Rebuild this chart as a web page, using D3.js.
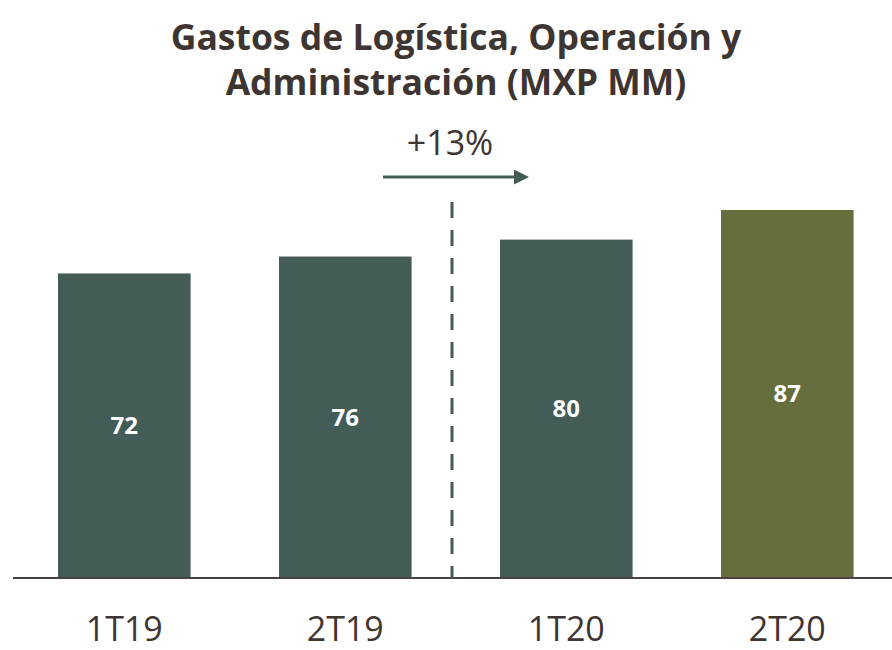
<!DOCTYPE html>
<html>
  <head>
    <meta charset="utf-8">
    <style type="text/css">
      body { margin: 0; background: #fff; }
      text { font-family: "Open Sans", sans-serif; }
    </style>
  </head>
  <body>
    <svg id="chart" width="892" height="650"></svg>
    <script src="https://cdn.jsdelivr.net/npm/d3@7"></script>
    <script>
      const categories = ["1T19", "2T19", "1T20", "2T20"];
      const values = [72, 76, 80, 87];
      const barColors = ["#445c58", "#445c58", "#445c58", "#676e3d"];
      const titleLines = ["Gastos de Logística, Operación y", "Administración (MXP MM)"];
      const growthLabel = "+13%";

      const textColor = "#3e3431";
      const svg = d3.select("#chart");
      const baseY = 578;

      const x = d3.scaleBand()
        .domain(categories)
        .range([13.8, 897.8])
        .paddingInner(0.4)
        .paddingOuter(0.2);

      const y = d3.scaleLinear()
        .domain([0, 100])
        .range([baseY, baseY - 423]);

      // title
      svg.selectAll("text.title").data(titleLines).enter().append("text")
        .attr("class", "title")
        .attr("x", 456)
        .attr("y", (d, i) => 50 + i * 45)
        .attr("text-anchor", "middle")
        .style("font-size", "35.5px")
        .style("font-weight", "bold")
        .style("fill", textColor)
        .text((d) => d);

      // bars
      svg.selectAll("rect.bar").data(values).enter().append("rect")
        .attr("class", "bar")
        .attr("x", (d, i) => x(categories[i]))
        .attr("y", (d) => y(d))
        .attr("width", x.bandwidth())
        .attr("height", (d) => baseY - y(d))
        .style("fill", (d, i) => barColors[i]);

      // value labels
      svg.selectAll("text.val").data(values).enter().append("text")
        .attr("class", "val")
        .attr("x", (d, i) => x(categories[i]) + x.bandwidth() / 2)
        .attr("y", (d) => (y(d) + baseY) / 2)
        .attr("dy", "0.35em")
        .attr("text-anchor", "middle")
        .style("font-size", "24px")
        .style("font-weight", "bold")
        .style("fill", "#fff")
        .text((d) => d);

      // baseline
      svg.append("line")
        .attr("x1", 13).attr("x2", 892)
        .attr("y1", baseY).attr("y2", baseY)
        .style("stroke", "#4a4241")
        .style("stroke-width", 2);

      // category labels
      svg.selectAll("text.cat").data(categories).enter().append("text")
        .attr("class", "cat")
        .attr("x", (d) => x(d) + x.bandwidth() / 2)
        .attr("y", 641)
        .attr("text-anchor", "middle")
        .style("font-size", "34px")
        .style("fill", textColor)
        .text((d) => d);

      // dashed separator
      const sepX = x("1T20") - 48;
      svg.append("line")
        .attr("x1", sepX).attr("x2", sepX)
        .attr("y1", 202).attr("y2", baseY)
        .style("stroke", "#445c58")
        .style("stroke-width", 3)
        .style("stroke-dasharray", "16,12");

      // growth arrow
      svg.append("defs").append("marker")
        .attr("id", "arrow")
        .attr("viewBox", "0 0 10 10")
        .attr("refX", 0).attr("refY", 5)
        .attr("markerWidth", 5).attr("markerHeight", 5)
        .attr("markerUnits", "strokeWidth")
        .attr("orient", "auto")
        .append("path")
        .attr("d", "M0,0 L10,5 L0,10 Z")
        .style("fill", "#445c58");

      svg.append("line")
        .attr("x1", 383).attr("x2", 514)
        .attr("y1", 177).attr("y2", 177)
        .style("stroke", "#445c58")
        .style("stroke-width", 3)
        .attr("marker-end", "url(#arrow)");

      svg.append("text")
        .attr("x", 450)
        .attr("y", 155)
        .attr("text-anchor", "middle")
        .style("font-size", "34px")
        .style("fill", textColor)
        .text(growthLabel);
    </script>
  </body>
</html>
